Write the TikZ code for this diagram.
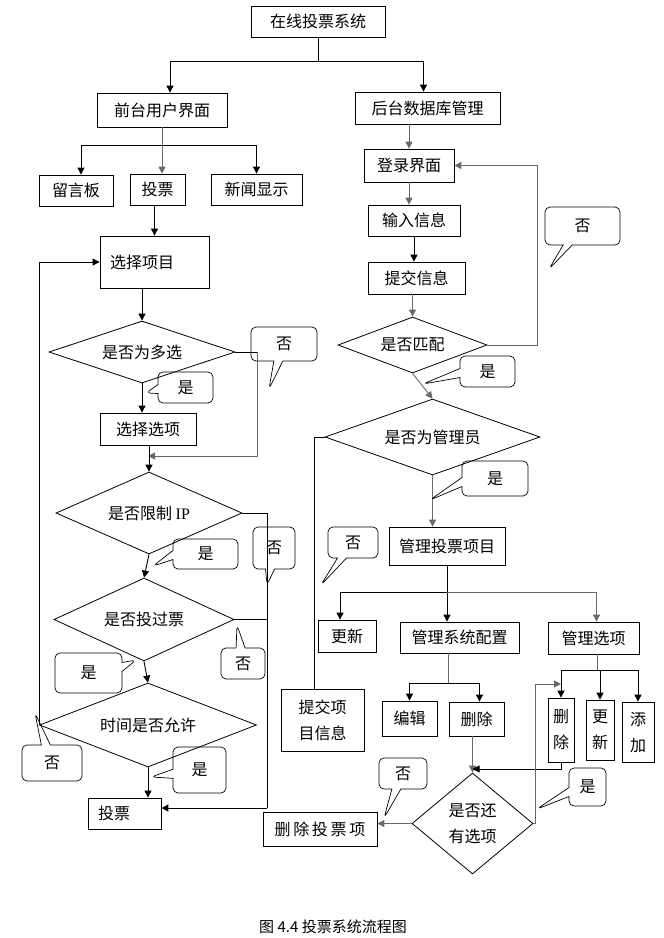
\documentclass[tikz,border=0pt]{standalone}
\usepackage{fontspec}
\setmainfont{Noto Sans CJK SC}
\newfontfamily\latinserif{Liberation Serif}
\usetikzlibrary{shapes.geometric, shapes.callouts, arrows.meta}

\definecolor{FlowGray}{RGB}{105,105,105}
\newcommand{\flowfont}{\fontsize{16}{26}\selectfont}

\tikzset{
  box/.style={draw, line width=0.8pt, inner sep=0pt, font=\flowfont},
  decision/.style={diamond, draw, line width=0.8pt, inner sep=0pt, aspect=2.5, font=\flowfont},
  bubble/.style={rectangle callout, draw, line width=0.7pt, rounded corners=5pt, inner sep=0pt, callout pointer width=9pt, font=\flowfont},
  flow/.style={-{Triangle[width=7pt,length=7pt]}, line width=0.9pt},
  link/.style={line width=0.9pt},
}

\begin{document}
\begin{tikzpicture}[x=1pt, y=-1pt]
    \useasboundingbox (0,0) rectangle (664,938);

    % System
    \node[box, minimum width=134pt, minimum height=31pt] (system) at (318,21.5) {在线投票系统};

    % Front end
    \node[box, minimum width=130pt, minimum height=34pt] (front) at (162,110) {前台用户界面};
    \node[box, minimum width=74pt, minimum height=31pt] (board) at (76,190.5) {留言板};
    \node[box, minimum width=55pt, minimum height=31pt] (vote) at (157.5,189.5) {投票};
    \node[box, minimum width=91pt, minimum height=31pt] (news) at (256.5,189.5) {新闻显示};
    \node[box, minimum width=109pt, minimum height=52pt, text width=89pt, align=left] (pickitem) at (154.5,262) {选择项目};
    \node[decision, minimum width=186pt, minimum height=62pt] (multi) at (142,352) {是否为多选};
    \node[box, minimum width=96pt, minimum height=32pt] (pickopt) at (148,429) {选择选项};
    \node[decision, minimum width=186pt, minimum height=82pt] (limitip) at (149,513) {是否限制 {\latinserif IP}};
    \node[decision, minimum width=180pt, minimum height=83pt] (voted) at (144,619.5) {是否投过票};
    \node[decision, minimum width=217pt, minimum height=84pt] (timeok) at (148,725) {时间是否允许};
    \node[box, minimum width=73pt, minimum height=31pt, text width=53pt, align=left] (final) at (124.5,813.5) {投票};

    % Back end
    \node[box, minimum width=145pt, minimum height=32pt] (back) at (427.5,108) {后台数据库管理};
    \node[box, minimum width=90pt, minimum height=33pt] (login) at (409,165.5) {登录界面};
    \node[box, minimum width=92pt, minimum height=31pt] (input) at (414,220.5) {输入信息};
    \node[box, minimum width=97pt, minimum height=32pt] (submit) at (416.5,278) {提交信息};
    \node[decision, minimum width=149pt, minimum height=56pt] (match) at (412.5,345) {是否匹配};
    \node[decision, minimum width=215pt, minimum height=76pt] (admin) at (432.5,437) {是否为管理员};
    \node[box, minimum width=116pt, minimum height=38pt] (manage) at (447,546) {管理投票项目};
    \node[box, minimum width=58pt, minimum height=32pt] (upd) at (347,636) {更新};
    \node[box, minimum width=119pt, minimum height=31pt] (cfg) at (459.5,637.5) {管理系统配置};
    \node[box, minimum width=91pt, minimum height=32pt] (opt) at (593.5,638) {管理选项};
    \node[box, minimum width=83pt, minimum height=62pt, align=center] (submitinfo) at (322.5,720) {提交项\\目信息};
    \node[box, minimum width=55pt, minimum height=35pt] (edit) at (409.5,718.5) {编辑};
    \node[box, minimum width=55pt, minimum height=34pt] (del) at (476.5,719) {删除};
    \node[box, minimum width=26pt, minimum height=64pt, align=center] (odel) at (561,730) {删\\除};
    \node[box, minimum width=28pt, minimum height=60pt, align=center] (oupd) at (600,730) {更\\新};
    \node[box, minimum width=32pt, minimum height=60pt, align=center] (oadd) at (638,732) {添\\加};
    \node[decision, aspect=1.2, minimum width=121pt, minimum height=101pt, align=center] (more) at (472.5,823.5) {是否还\\有选项};
    \node[box, minimum width=114pt, minimum height=34pt] (delitem) at (320,829) {删\,除\,投\,票\,项};

    % Caption
    \node[font=\fontsize{15}{18}\selectfont] (caption) at (333,927) {图 4.4 投票系统流程图};

    % Junctions
    \coordinate (split1) at (318,61);
    \coordinate (split2) at (162,145);
    \coordinate (nojoin1) at (257,352);
    \coordinate (merge1) at (148,456);
    \coordinate (nojoin2) at (267,808);
    \coordinate (loop2) at (537,165.5);
    \coordinate (nojoin3) at (314,437);
    \coordinate (split3) at (447,592);
    \coordinate (split4) at (448,683);
    \coordinate (split5) at (597,670);
    \coordinate (merge2) at (472.5,769);
    \coordinate (loop3) at (535,684);

    % System branches
    \draw[link] (system) -- (split1);
    \draw[flow] (split1) -| ([xshift=8pt]front.north);
    \draw[flow] (split1) -| ([xshift=-4pt]back.north);
    \draw[flow, FlowGray] (front) -- (front |- vote.north);
    \draw[flow] (split2) -| ([xshift=5pt]board.north);
    \draw[flow] (split2) -| (news.north);
    \draw[flow] (vote.south -| pickitem.north) -- (pickitem.north);

    % Voting flow
    \draw[flow] (pickitem.south -| multi.north) -- (multi.north);
    \draw[flow] (multi.south) -- (multi.south |- pickopt.north);
    \draw[link] (multi.east) -- (nojoin1);
    \draw[flow, FlowGray] (nojoin1) |- (merge1);
    \draw[flow] (pickopt.south -| limitip.north) -- (limitip.north);
    \draw[flow] (limitip.south) -- (voted.north);
    \draw[link] (limitip.east) -| (nojoin2);
    \draw[link] (voted.east) -- (voted.east -| nojoin2);
    \draw[flow] (nojoin2) -- (nojoin2 -| final.east);
    \draw[flow] (voted.south) -- (timeok.north);
    \draw[flow] (timeok.south) -- (timeok.south |- final.north);
    \draw[flow] (timeok.west) |- (pickitem.west);

    % Admin flow
    \draw[flow, FlowGray] (back.south -| login.north) -- (login.north);
    \draw[flow, FlowGray] (login.south) -- (login.south |- input.north);
    \draw[flow] (input.south) -- (input.south |- submit.north);
    \draw[flow, FlowGray] (submit.south -| match.north) -- (match.north);
    \draw[flow, FlowGray] (match.east) -| (loop2) -- (login.east);
    \draw[flow, FlowGray] (match.south) -- (admin.north);
    \draw[link] (admin.west) -- (nojoin3) -- (nojoin3 |- submitinfo.north);
    \draw[flow, FlowGray] (admin.south) -- (admin.south |- manage.north);
    \draw[link] (manage.south -| split3) -- (split3);
    \draw[flow] (split3) -| ([xshift=-7pt]upd.north);
    \draw[flow] (split3) -- (split3 |- cfg.north);
    \draw[flow, FlowGray] (split3) -| ([xshift=3pt]opt.north);
    \draw[link, FlowGray] (cfg.south -| split4) -- (split4);
    \draw[flow] (split4) -| (edit.north);
    \draw[flow] (split4) -| ([xshift=3pt]del.north);
    \draw[link, FlowGray] (opt.south -| split5) -- (split5);
    \draw[flow] (split5) -| (odel.north);
    \draw[flow] (split5) -| (oupd.north);
    \draw[flow] (split5) -| (oadd.north);
    \draw[flow, FlowGray] (del.south -| more.north) -- (more.north);
    \draw[flow] (odel.south) |- (merge2);
    \draw[flow, FlowGray] (more.east) -| (loop3) -- (loop3 -| odel.north);
    \draw[flow, FlowGray] (more.west) -- (more.west -| delitem.east);

    % Yes / no callouts
    \node[bubble, minimum width=66pt, minimum height=34pt, callout absolute pointer={(269,389)}] (no1) at (284,344) {否};
    \node[bubble, minimum width=55pt, minimum height=31pt, callout absolute pointer={(146,393)}] (yes1) at (185.5,387.5) {是};
    \node[bubble, minimum width=42pt, minimum height=42pt, callout absolute pointer={(267,585)}] (no2) at (274,548) {否};
    \node[bubble, minimum width=65pt, minimum height=30pt, callout absolute pointer={(153,566)}] (yes2) at (205.5,554) {是};
    \node[bubble, minimum width=44pt, minimum height=31pt, callout absolute pointer={(237,625)}] (no3) at (243,663.5) {否};
    \node[bubble, minimum width=67pt, minimum height=40pt, callout absolute pointer={(136,660)}] (yes3) at (88.5,673) {是};
    \node[bubble, minimum width=60pt, minimum height=36pt, callout absolute pointer={(35,713)}] (no4) at (52,763) {否};
    \node[bubble, minimum width=53pt, minimum height=46pt, callout absolute pointer={(151,777)}] (yes4) at (199.5,770) {是};
    \node[bubble, minimum width=75pt, minimum height=38pt, callout absolute pointer={(549,269)}] (no5) at (582.5,226) {否};
    \node[bubble, minimum width=55pt, minimum height=31pt, callout absolute pointer={(423,384)}] (yes5) at (487.5,371.5) {是};
    \node[bubble, minimum width=50pt, minimum height=31pt, callout absolute pointer={(321,585)}] (no6) at (353,542.5) {否};
    \node[bubble, minimum width=66pt, minimum height=35pt, callout absolute pointer={(430,500)}] (yes6) at (495,478.5) {是};
    \node[bubble, minimum width=48pt, minimum height=31pt, callout absolute pointer={(384,818)}] (no7) at (403,773.5) {否};
    \node[bubble, minimum width=37pt, minimum height=38pt, callout absolute pointer={(537,809)}] (yes7) at (587.5,787) {是};
\end{tikzpicture}
\end{document}
